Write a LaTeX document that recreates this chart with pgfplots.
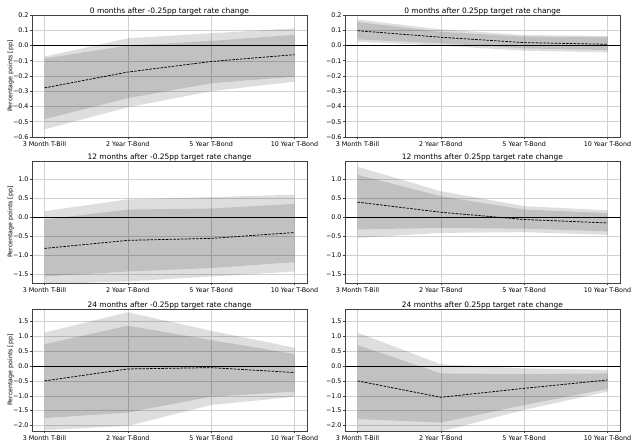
\documentclass[border=0pt]{standalone}
\usepackage{fontspec}
\setmainfont{DejaVu Sans}
\usepackage{pgfplots}
\usepackage{pgfplotstable}
\pgfplotsset{compat=1.18}
\usepgfplotslibrary{fillbetween}

% columns: mean, outer band (lo2/hi2), inner band (lo1/hi1)
\pgfplotstableread{
x m lo2 hi2 lo1 hi1
0 -0.278 -0.550 -0.073 -0.484 -0.085
1 -0.174 -0.405 0.047 -0.345 0.000
2 -0.105 -0.300 0.080 -0.248 0.030
3 -0.060 -0.237 0.113 -0.204 0.070
}\tabA
\pgfplotstableread{
x m lo2 hi2 lo1 hi1
0 0.097 0.025 0.170 0.040 0.154
1 0.054 -0.001 0.106 0.014 0.090
2 0.019 -0.034 0.069 -0.019 0.058
3 0.008 -0.045 0.062 -0.030 0.055
}\tabB
\pgfplotstableread{
x m lo2 hi2 lo1 hi1
0 -0.816 -1.750 0.158 -1.550 -0.060
1 -0.605 -1.680 0.465 -1.420 0.200
2 -0.553 -1.550 0.526 -1.330 0.228
3 -0.400 -1.420 0.588 -1.175 0.350
}\tabC
\pgfplotstableread{
x m lo2 hi2 lo1 hi1
0 0.395 -0.540 1.320 -0.320 1.110
1 0.130 -0.410 0.680 -0.280 0.550
2 -0.060 -0.390 0.290 -0.300 0.200
3 -0.150 -0.460 0.180 -0.370 0.110
}\tabD
\pgfplotstableread{
x m lo2 hi2 lo1 hi1
0 -0.500 -2.150 1.120 -1.750 0.730
1 -0.100 -2.010 1.800 -1.560 1.350
2 -0.056 -1.310 1.180 -1.030 0.870
3 -0.220 -1.030 0.610 -0.860 0.400
}\tabE
\pgfplotstableread{
x m lo2 hi2 lo1 hi1
0 -0.500 -2.200 1.120 -1.780 0.700
1 -1.050 -2.200 0.056 -1.900 -0.250
2 -0.750 -1.470 -0.080 -1.310 -0.270
3 -0.470 -0.860 -0.130 -0.770 -0.250
}\tabF

\newcommand{\bands}[1]{%
  \addplot[draw=none, forget plot, name path=ho] table[x=x, y=hi2] {#1};
  \addplot[draw=none, forget plot, name path=lo] table[x=x, y=lo2] {#1};
  \addplot[fill=black, fill opacity=0.13, draw=none] fill between[of=ho and lo];
  \addplot[draw=none, forget plot, name path=hi] table[x=x, y=hi1] {#1};
  \addplot[draw=none, forget plot, name path=li] table[x=x, y=lo1] {#1};
  \addplot[fill=black, fill opacity=0.13, draw=none] fill between[of=hi and li];
  \addplot[black, line width=0.9bp] coordinates {(-0.15,0) (3.15,0)};
  \addplot[black, line width=0.75bp, dash pattern=on 2.6bp off 1.2bp] table[x=x, y=m] {#1};
}

\pgfplotsset{
  panel/.style={
    scale only axis, width=275bp, height=122bp,
    anchor=south west,
    xmin=-0.15, xmax=3.15,
    xtick={0,1,2,3},
    xticklabels={3 Month T-Bill, 2 Year T-Bond, 5 Year T-Bond, 10 Year T-Bond},
    grid=major, grid style={line width=0.5bp, draw=black!18},
    axis line style={draw=black!75, line width=0.6bp},
    tick style={black!75, line width=0.6bp},
    tick align=outside, major tick length=2.5bp,
    xtick pos=left, ytick pos=left,
    tick label style={font=\fontsize{6.4}{7.5}\selectfont},
    xticklabel style={yshift=1bp},
    yticklabel style={inner sep=0.8bp},
    title style={font=\fontsize{7.5}{8.5}\selectfont, yshift=-10bp},
    ylabel style={font=\fontsize{6.3}{7.5}\selectfont},
    ylabel shift=-5bp,
  },
  rowA/.style={ymin=-0.6, ymax=0.2,
    ytick={-0.6,-0.5,-0.4,-0.3,-0.2,-0.1,0,0.1,0.2},
    yticklabels={−0.6,−0.5,−0.4,−0.3,−0.2,−0.1,0.0,0.1,0.2}},
  rowB/.style={ymin=-1.72, ymax=1.47,
    ytick={-1.5,-1,-0.5,0,0.5,1},
    yticklabels={−1.5,−1.0,−0.5,0.0,0.5,1.0}},
  rowC/.style={ymin=-2.18, ymax=1.91,
    ytick={-2,-1.5,-1,-0.5,0,0.5,1,1.5},
    yticklabels={−2.0,−1.5,−1.0,−0.5,0.0,0.5,1.0,1.5}},
}

\begin{document}
\begin{tikzpicture}

\begin{axis}[panel, rowA, at={(32bp,311bp)}, ylabel={Percentage points [pp]},
  title={0 months after -0.25pp target rate change}]
\bands{\tabA}
\end{axis}

\begin{axis}[panel, rowA, at={(345bp,311bp)},
  title={0 months after 0.25pp target rate change}]
\bands{\tabB}
\end{axis}

\begin{axis}[panel, rowB, at={(32bp,165bp)}, ylabel={Percentage points [pp]},
  title={12 months after -0.25pp target rate change}]
\bands{\tabC}
\end{axis}

\begin{axis}[panel, rowB, at={(345bp,165bp)},
  title={12 months after 0.25pp target rate change}]
\bands{\tabD}
\end{axis}

\begin{axis}[panel, rowC, at={(32bp,17bp)}, ylabel={Percentage points [pp]},
  title={24 months after -0.25pp target rate change}]
\bands{\tabE}
\end{axis}

\begin{axis}[panel, rowC, at={(345bp,17bp)},
  title={24 months after 0.25pp target rate change}]
\bands{\tabF}
\end{axis}

\pgfresetboundingbox
\path[use as bounding box] (0bp,0bp) rectangle (640bp,448bp);
\end{tikzpicture}
\end{document}
